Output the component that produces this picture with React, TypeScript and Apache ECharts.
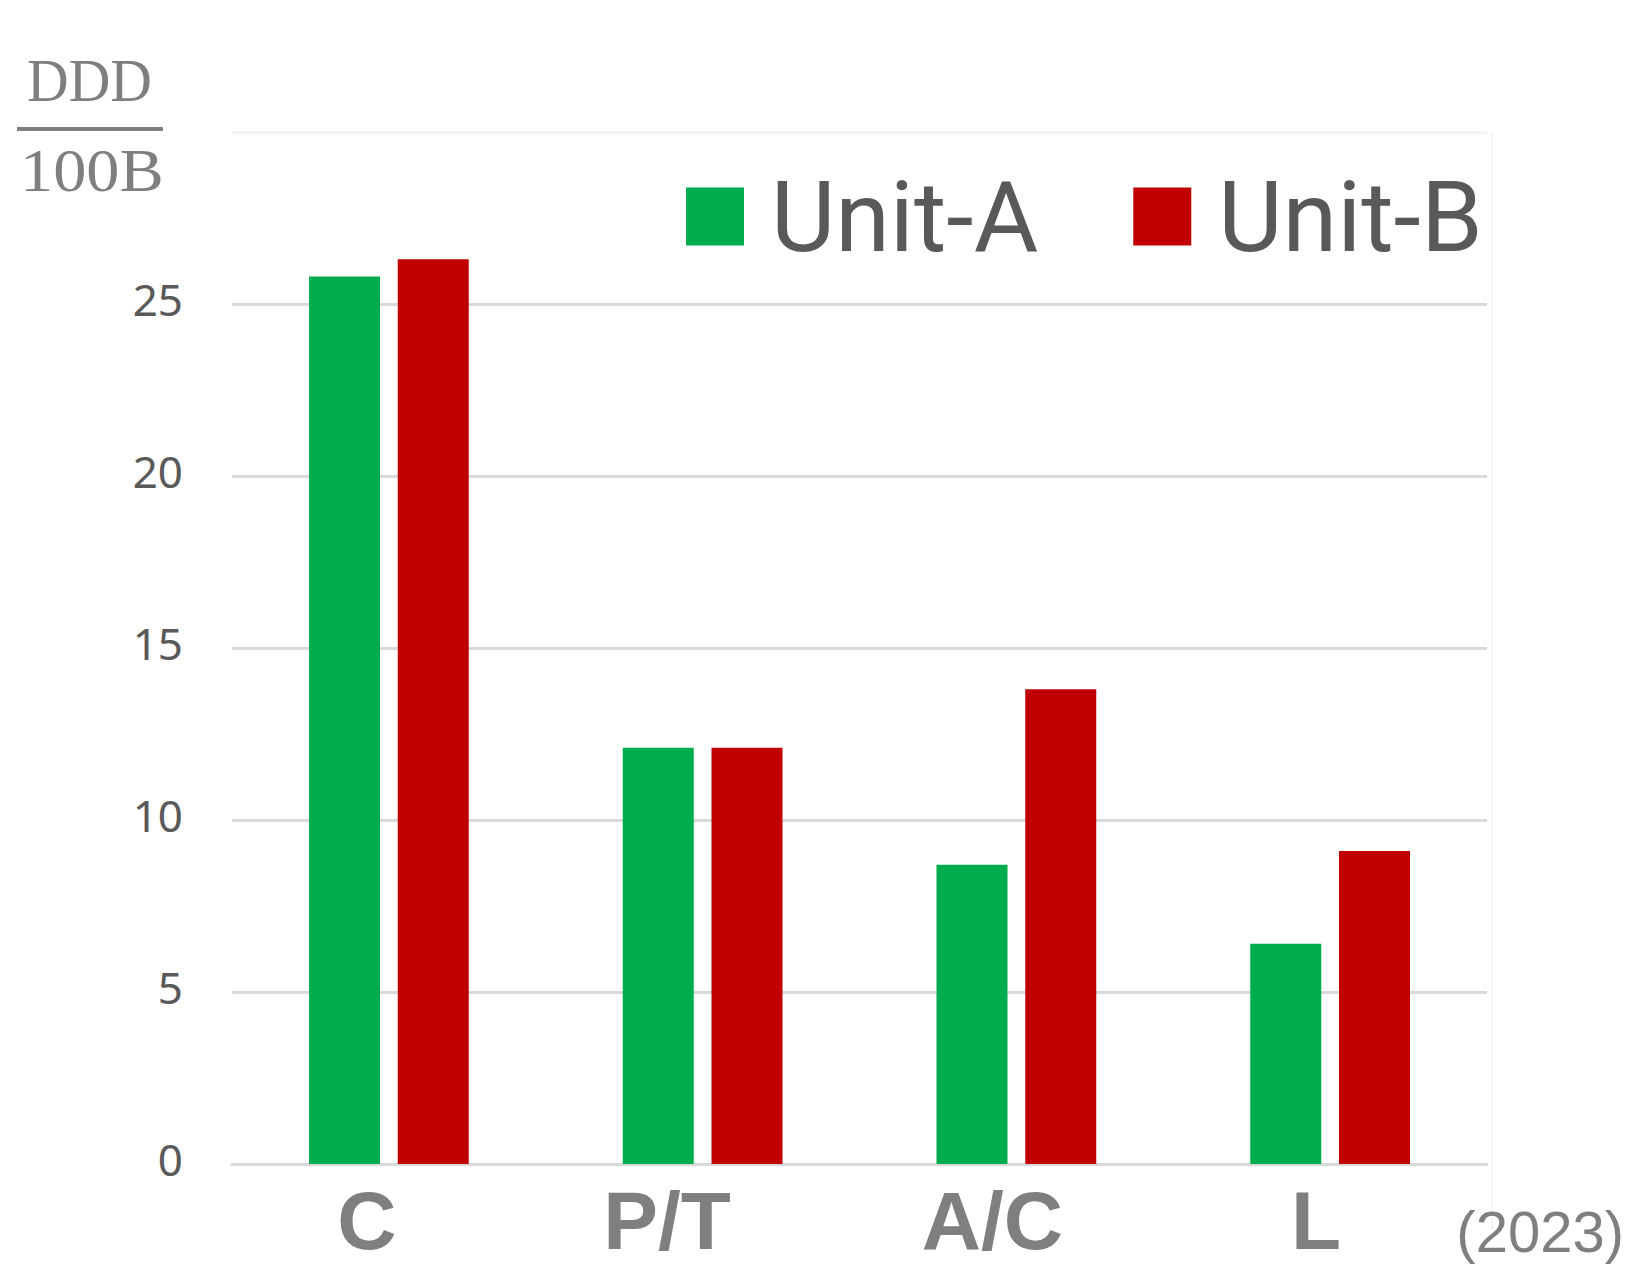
import React, { useEffect, useRef } from "react";
import * as echarts from "echarts";

const categories = ["C", "P/T", "A/C", "L"];
const unitA = [25.8, 12.1, 8.7, 6.4];
const unitB = [26.3, 12.1, 13.8, 9.1];
const seriesNames = ["Unit-A", "Unit-B"];
const yTicks = [0, 5, 10, 15, 20, 25, 30];
const yearNote = "(2023)";
const unitTop = "DDD";
const unitBottom = "100B";

export default function App() {
  const ref = useRef<HTMLDivElement>(null);
  useEffect(() => {
    document.body.style.margin = "0";
    const chart = echarts.init(ref.current!, null, { renderer: "svg" });
    const yMax = yTicks[yTicks.length - 1];
    // label shift (right padding) per category, to match the reference's label placement
    const labelPad = [44, 71, 48, 28];
    const xFont = {
      fontFamily: "Liberation Sans",
      fontWeight: "bold",
      fontSize: 82,
      lineHeight: 60,
      color: "#7f7f7f",
    };
    const rich: Record<string, any> = {};
    labelPad.forEach((p, i) => {
      rich["c" + i] = { ...xFont, padding: [0, p, 0, 0] };
    });
    const yFont = {
      fontFamily: "Noto Sans",
      fontSize: 44,
      lineHeight: 44,
      color: "#595959",
    };
    chart.setOption({
      animation: false,
      backgroundColor: "#ffffff",
      grid: {
        left: 232,
        right: 140,
        top: 132,
        bottom: 105,
        containLabel: false,
        outerBoundsMode: "none",
      },
      legend: {
        data: seriesNames,
        left: 681,
        top: 162,
        itemWidth: 58,
        itemHeight: 58,
        itemGap: 95,
        icon: "rect",
        textStyle: {
          fontFamily: "Roboto",
          fontSize: 99,
          color: "#595959",
          padding: [0, 0, 0, 22],
        },
      },
      xAxis: {
        type: "category",
        data: categories,
        axisTick: { show: false },
        axisLine: { lineStyle: { color: "#d9d9d9", width: 3 } },
        axisLabel: {
          ...xFont,
          interval: 0,
          hideOverlap: false,
          margin: 26,
          formatter: (v: string, i: number) => `{c${i}|${v}}`,
          rich,
        },
      },
      yAxis: {
        type: "value",
        min: 0,
        max: yMax,
        interval: 5,
        axisLine: { show: false },
        axisTick: { show: false },
        axisLabel: {
          ...yFont,
          margin: 49,
          formatter: (v: number) => (v === yMax ? "" : `{v|${v}}`),
          rich: { v: { ...yFont, padding: [0, 0, 10, 0] } },
        },
        splitLine: {
          lineStyle: {
            color: ["#d9d9d9", "#d9d9d9", "#d9d9d9", "#d9d9d9", "#d9d9d9", "#d9d9d9", "#f3f3f3"],
            width: 3,
          },
        },
      },
      series: [
        {
          name: seriesNames[0],
          type: "bar",
          data: unitA,
          barWidth: 71,
          barGap: "25%",
          itemStyle: { color: "#00ad4e" },
        },
        {
          name: seriesNames[1],
          type: "bar",
          data: unitB,
          barWidth: 71,
          barGap: "25%",
          itemStyle: { color: "#c00000" },
        },
      ],
      graphic: [
        {
          type: "text",
          x: 27,
          y: 49,
          scaleX: 0.93,
          style: {
            text: unitTop,
            font: "62px 'Liberation Serif'",
            fill: "#7f7f7f",
            textVerticalAlign: "top",
          },
        },
        {
          type: "line",
          shape: { x1: 17, y1: 129, x2: 163, y2: 129 },
          style: { stroke: "#7f7f7f", lineWidth: 4 },
        },
        {
          type: "text",
          x: 20,
          y: 139,
          scaleX: 1.07,
          style: {
            text: unitBottom,
            font: "62px 'Liberation Serif'",
            fill: "#7f7f7f",
            textVerticalAlign: "top",
          },
        },
        {
          type: "line",
          shape: { x1: 1492, y1: 132, x2: 1492, y2: 1230 },
          style: { stroke: "#f4f4f4", lineWidth: 2 },
        },
        {
          type: "text",
          right: 3,
          top: 1202,
          style: {
            text: yearNote,
            font: "58px 'Liberation Sans'",
            fill: "#7f7f7f",
          },
        },
      ],
    });
    return () => chart.dispose();
  }, []);
  return <div ref={ref} style={{ width: 1627, height: 1269 }} />;
}
